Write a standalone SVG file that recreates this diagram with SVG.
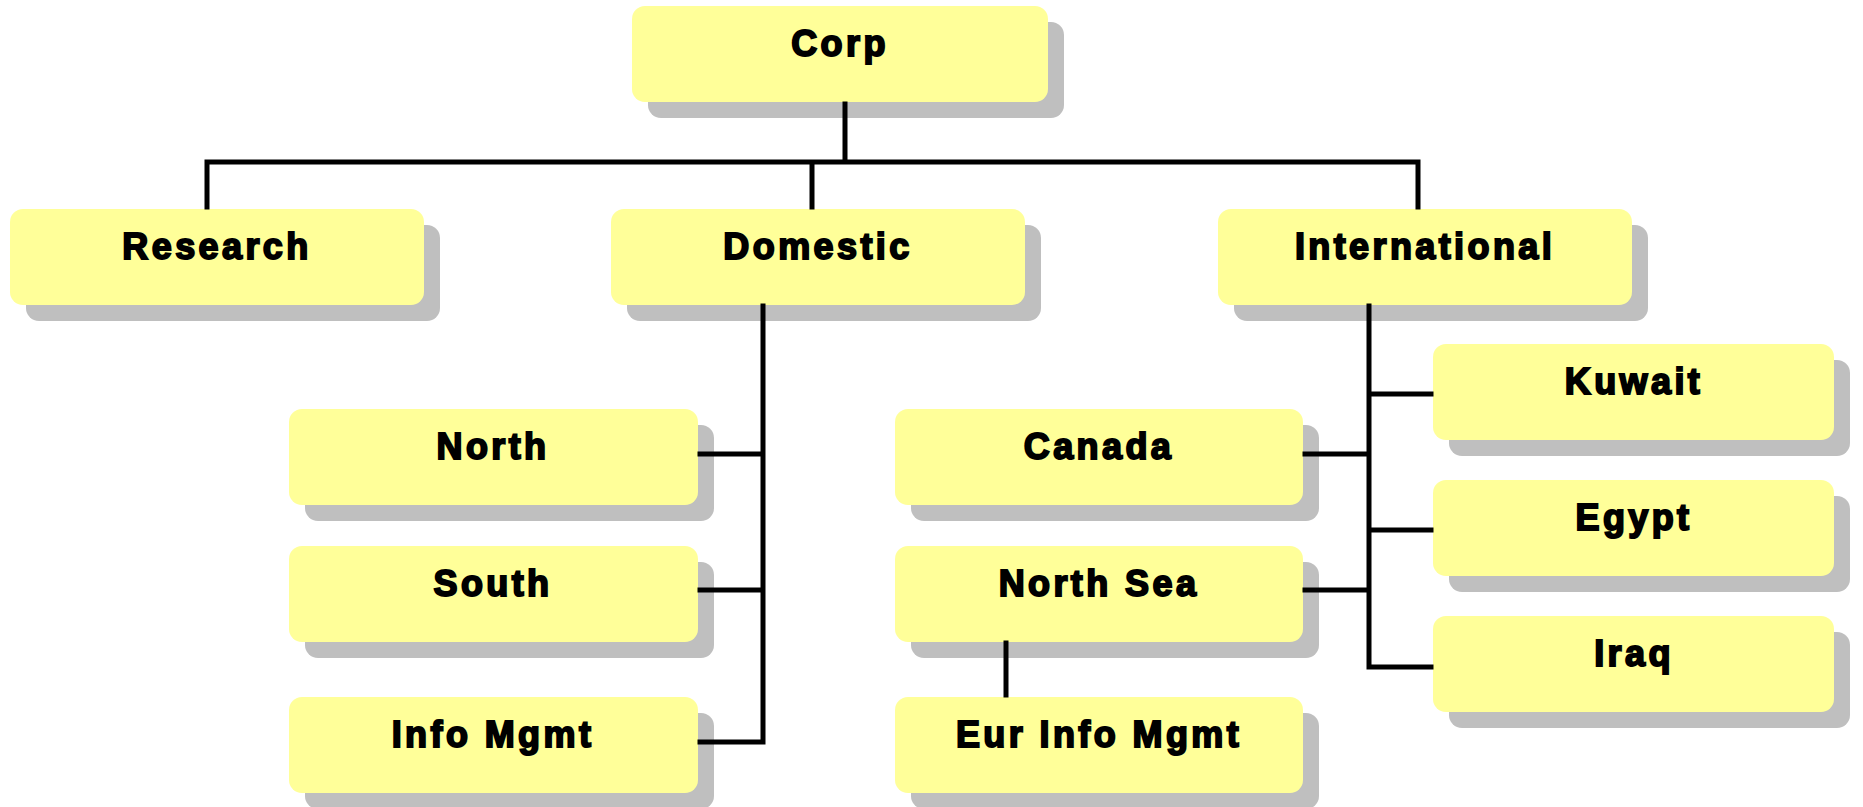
<svg xmlns="http://www.w3.org/2000/svg" width="1863" height="807" viewBox="0 0 1863 807">
<style>
.sh{fill:#bfbfbf}
.bx{fill:#ffff99}
.t{font-family:"Liberation Sans",Arial,sans-serif;font-weight:bold;font-size:36px;fill:#000;stroke:#000;stroke-width:1.9;letter-spacing:3.4px;text-anchor:middle}
.c{stroke:#000;stroke-width:5;fill:none;stroke-linecap:square}
</style>
<rect width="1863" height="807" fill="#fff"/>
<g id="corp"><rect class="sh" x="648" y="22" width="416" height="96" rx="13"/><rect class="bx" x="632" y="6" width="416" height="96" rx="13"/><text class="t" x="840" y="56">Corp</text></g>
<g id="research"><rect class="sh" x="26" y="225" width="414" height="96" rx="13"/><rect class="bx" x="10" y="209" width="414" height="96" rx="13"/><text class="t" x="217" y="259">Research</text></g>
<g id="domestic"><rect class="sh" x="627" y="225" width="414" height="96" rx="13"/><rect class="bx" x="611" y="209" width="414" height="96" rx="13"/><text class="t" x="818" y="259">Domestic</text></g>
<g id="international"><rect class="sh" x="1234" y="225" width="414" height="96" rx="13"/><rect class="bx" x="1218" y="209" width="414" height="96" rx="13"/><text class="t" x="1425" y="259">International</text></g>
<g id="north"><rect class="sh" x="305" y="425" width="409" height="96" rx="13"/><rect class="bx" x="289" y="409" width="409" height="96" rx="13"/><text class="t" x="493" y="459">North</text></g>
<g id="south"><rect class="sh" x="305" y="562" width="409" height="96" rx="13"/><rect class="bx" x="289" y="546" width="409" height="96" rx="13"/><text class="t" x="493" y="596">South</text></g>
<g id="infomgmt"><rect class="sh" x="305" y="713" width="409" height="96" rx="13"/><rect class="bx" x="289" y="697" width="409" height="96" rx="13"/><text class="t" x="493" y="747">Info Mgmt</text></g>
<g id="canada"><rect class="sh" x="911" y="425" width="408" height="96" rx="13"/><rect class="bx" x="895" y="409" width="408" height="96" rx="13"/><text class="t" x="1099" y="459">Canada</text></g>
<g id="northsea"><rect class="sh" x="911" y="562" width="408" height="96" rx="13"/><rect class="bx" x="895" y="546" width="408" height="96" rx="13"/><text class="t" x="1099" y="596">North Sea</text></g>
<g id="eurinfomgmt"><rect class="sh" x="911" y="713" width="408" height="96" rx="13"/><rect class="bx" x="895" y="697" width="408" height="96" rx="13"/><text class="t" x="1099" y="747">Eur Info Mgmt</text></g>
<g id="kuwait"><rect class="sh" x="1449" y="360" width="401" height="96" rx="13"/><rect class="bx" x="1433" y="344" width="401" height="96" rx="13"/><text class="t" x="1634" y="394">Kuwait</text></g>
<g id="egypt"><rect class="sh" x="1449" y="496" width="401" height="96" rx="13"/><rect class="bx" x="1433" y="480" width="401" height="96" rx="13"/><text class="t" x="1634" y="530">Egypt</text></g>
<g id="iraq"><rect class="sh" x="1449" y="632" width="401" height="96" rx="13"/><rect class="bx" x="1433" y="616" width="401" height="96" rx="13"/><text class="t" x="1634" y="666">Iraq</text></g>
<g id="connectors">
<path class="c" d="M845 104V162M207 162H1418M207 162V207M812 162V207M1418 162V207"/>
<path class="c" d="M763 306V742M700 454H763M700 590H763M700 742H763"/>
<path class="c" d="M1369 306V667M1305 454H1369M1305 590H1369M1369 394H1431M1369 530H1431M1369 667H1431"/>
<path class="c" d="M1006 643V695"/>
</g>
</svg>
